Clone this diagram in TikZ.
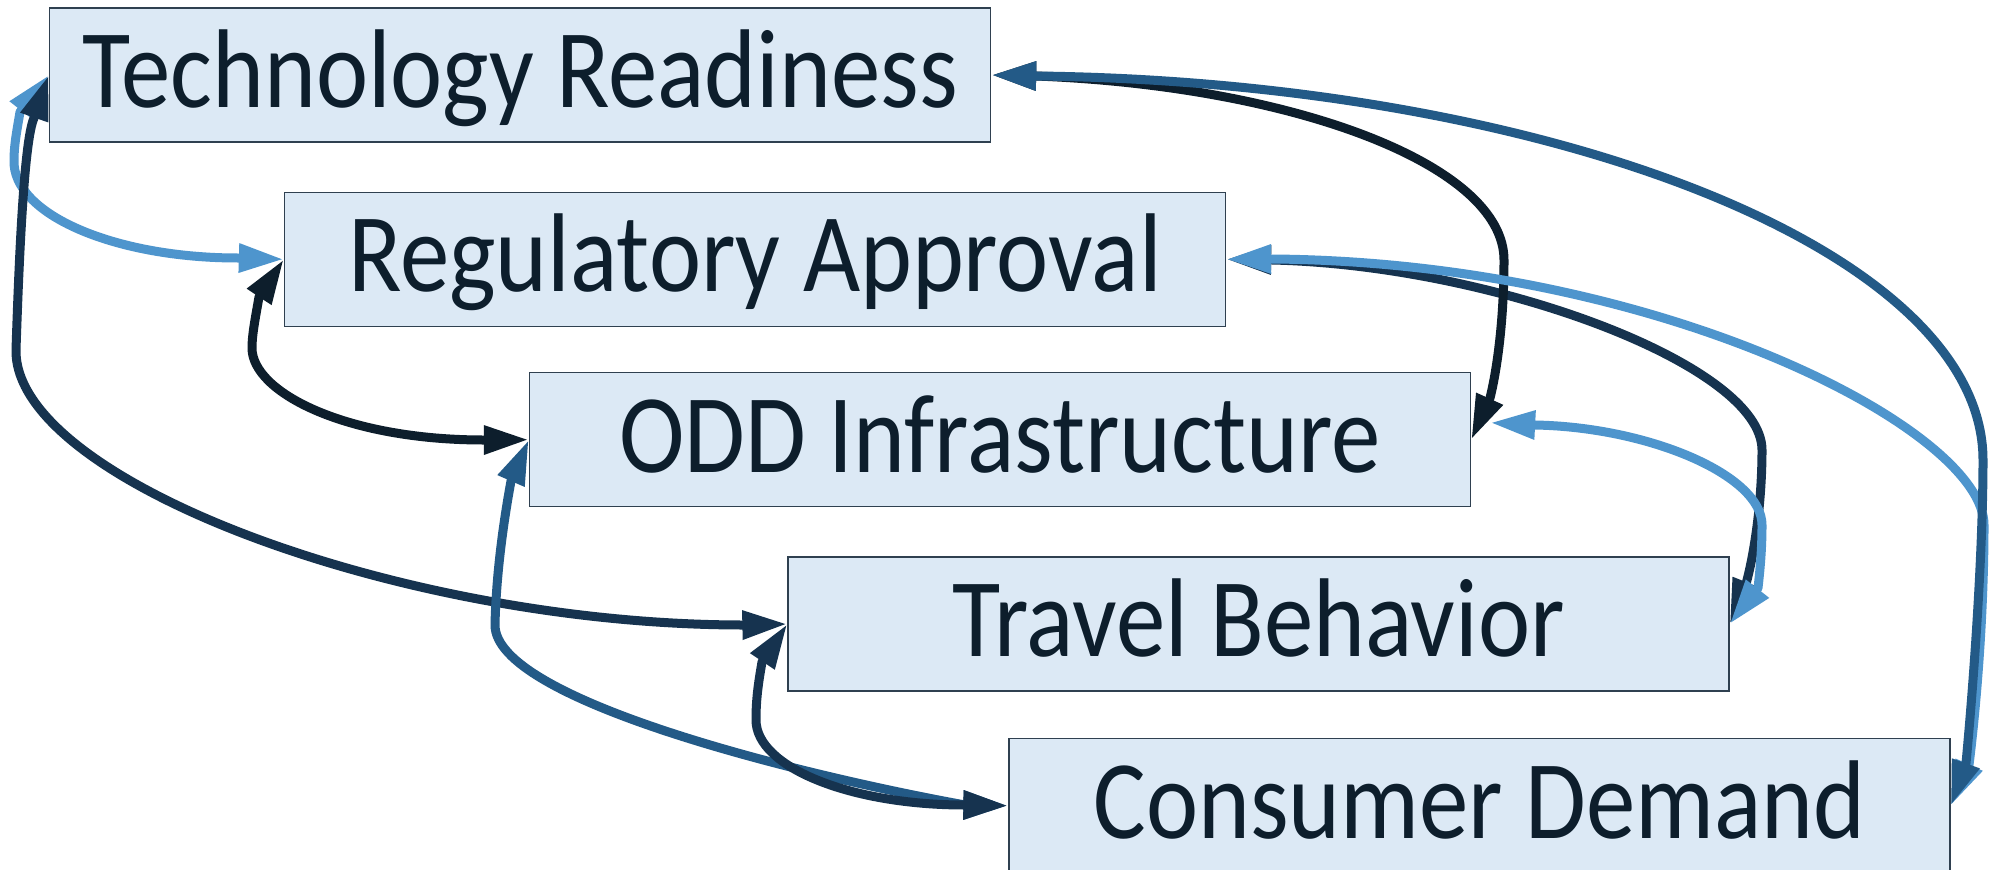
\documentclass[tikz,border=0pt]{standalone}
\usepackage{graphicx}
\usepackage{fontspec}
\setmainfont{Carlito}
\usetikzlibrary{arrows.meta}
\definecolor{cdark}{HTML}{0D1E2C}
\definecolor{cnavy}{HTML}{16334F}
\definecolor{cmed}{HTML}{235A87}
\definecolor{clight}{HTML}{4E95CD}
\definecolor{boxfill}{HTML}{DCE9F5}
\definecolor{boxline}{HTML}{2F4050}
\newcommand{\boxlabel}[1]{\scalebox{0.988}[1.12]{#1}}
\begin{document}
\begin{tikzpicture}[x=1pt,y=-1pt,
  box/.style={draw=boxline, line width=1.3pt, fill=boxfill, minimum width=941pt, minimum height=134pt, inner sep=0pt, text=cdark, font=\fontsize{100}{100}\selectfont, text height=64.6pt, text depth=0pt},
  link/.style={line width=9pt, line join=round, >={Triangle[length=45pt,width=27pt]}, <->},
]
\useasboundingbox (0,0) rectangle (1997,870);
\fill[white] (0,0) rectangle (1997,870);

\node[box] (tech)   at (520,75)     {\boxlabel{Technology Readiness}};
\node[box] (reg)    at (755,259.3)  {\boxlabel{Regulatory Approval}};
\node[box] (odd)    at (1000,439.7) {\boxlabel{ODD Infrastructure}};
\node[box] (travel) at (1258.5,624) {\boxlabel{Travel Behavior}};
\node[box] (cons)   at (1479.5,805.7) {\boxlabel{Consumer Demand}};

% left side
\draw[link, clight] (tech.west) -- (20,112) .. controls (17,130) and (14,145) .. (14,160)
   .. controls (12,214) and (114,258) .. (238,258) -- (reg.west);
\draw[link, cnavy] (tech.west) -- (34,118) .. controls (24,140) and (19,260) .. (16,350)
   .. controls (14,480) and (400,625) .. (744,625) -- (travel.west);
\draw[link, cmed] (odd.west) -- (511,481) .. controls (502,530) and (496,580) .. (495,625)
   .. controls (495,700) and (800,775) .. (965,805) -- (cons.west);
\draw[link, cdark] (reg.west) -- (259,297) .. controls (255,320) and (252,335) .. (252,348)
   .. controls (252,392) and (345,440) .. (484,440) -- (odd.west);
\draw[link, cnavy] (travel.west) -- (762,662) .. controls (758,685) and (756,700) .. (756,720)
   .. controls (756,767) and (850,805) .. (965,805) -- (cons.west);

% right side
\draw[link, cnavy] (reg.east) -- (1272,260) .. controls (1493,265) and (1762,365) .. (1762,450)
   .. controls (1762,500) and (1755,550) .. (1746.5,582) -- (travel.east);
\draw[link, cdark] (tech.east) -- (1036,76) .. controls (1294,86) and (1504,165) .. (1504,260)
   .. controls (1504,320) and (1497,370) .. (1490,398) -- (odd.east);
\draw[link, clight] (reg.east) -- (1272,259) .. controls (1661,262) and (1984,430) .. (1984,525)
   .. controls (1984,610) and (1977,700) .. (1969,765) -- (cons.east);
\draw[link, cmed] (tech.east) -- (1037,76) .. controls (1545,82) and (1983,249) .. (1983,460)
   .. controls (1983,560) and (1972,700) .. (1966,763) -- (cons.east);
\draw[link, clight] ([xshift=19pt,yshift=17pt]odd.east) -- (1535,425) .. controls (1648,427) and (1762,475) .. (1762,525)
   .. controls (1762,550) and (1760,570) .. (1758,588) -- (travel.east);
\end{tikzpicture}
\end{document}
